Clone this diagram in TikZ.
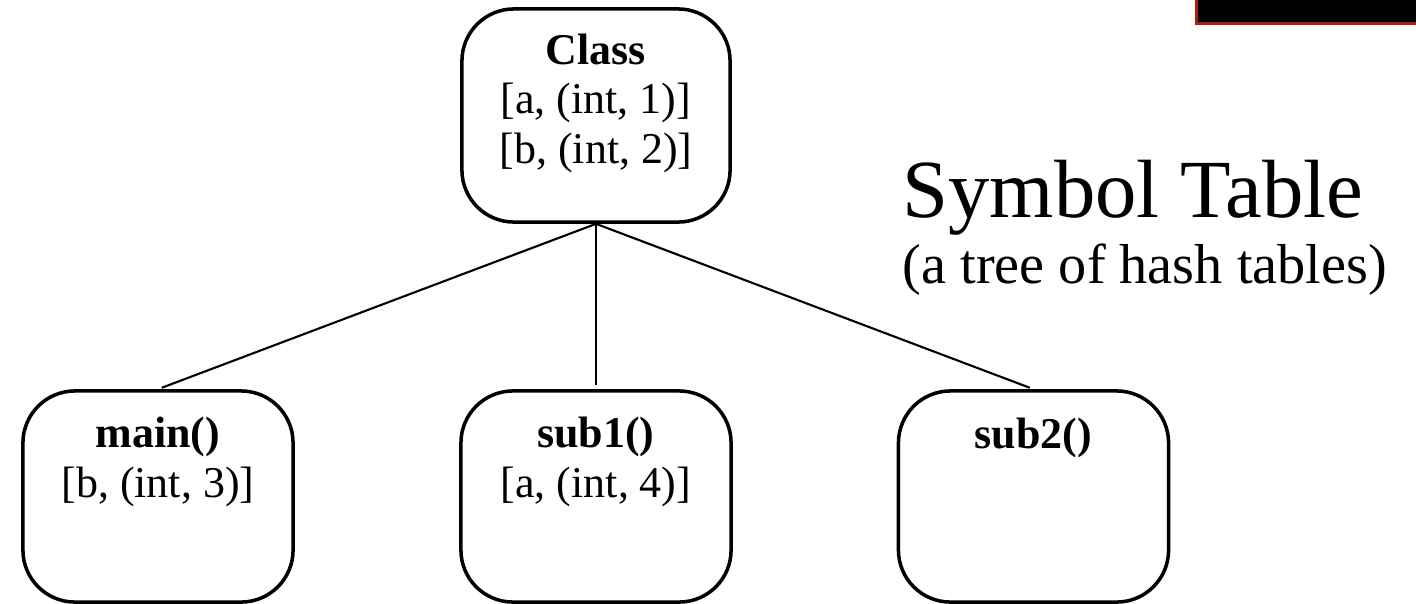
\documentclass[tikz,border=0pt]{standalone}
\usepackage{fontspec}
\setmainfont{Liberation Serif}
\usetikzlibrary{positioning}
\definecolor{framered}{RGB}{170,30,12}

\begin{document}
\begin{tikzpicture}[x=0.01cm, y=-0.01cm,
    table/.style={draw, line width=1pt, rounded corners=0.52cm,
        minimum width=2.7cm, minimum height=2.11cm, inner sep=0pt},
    entries/.style={align=center, font=\fontsize{12.5}{14}\selectfont,
        inner sep=0pt, anchor=base}]
    \useasboundingbox (0,0) rectangle (1416,603);

    % Corner of a dark box cut off at the top right
    \fill[black] (1195,0) rectangle (1416,25);
    \draw[framered, line width=0.85pt] (1196.5,-5) |- (1420,23.5);

    % The root scope (base = last line)
    \node[table, minimum width=2.68cm, minimum height=2.13cm] (class) at (596,115.5) {};
    \node[entries] (class-syms) at (596,163)
        {\textbf{Class}\\{}[a, (int, 1)]\\{}[b, (int, 2)]};

    % The nested scopes
    \node[table] (main) at (158,496.5) {};
    \node[entries] (main-syms) at (158,497) {\textbf{main()}\\{}[b, (int, 3)]};
    \node[table] (sub1) at (596,496.5) {};
    \node[entries] (sub1-syms) at (596,497) {\textbf{sub1()}\\{}[a, (int, 4)]};
    \node[table] (sub2) at (1033.5,496.5) {};
    \node[entries] (sub2-syms) at (1033.5,448) {\textbf{sub2()}};

    % Tree edges
    \foreach \scp in {main, sub1, sub2}
        \draw[line width=0.6pt, shorten >=0.04cm] (class.south) -- (\scp.north);

    % Title
    \node[anchor=base west, inner sep=0pt, font=\fontsize{23.5}{28}\selectfont]
        (title) at (902,217) {Symbol Table};
    \node[anchor=base west, inner sep=0pt, font=\fontsize{16}{19}\selectfont]
        (subtitle) at (902,283) {(a tree of hash tables)};
\end{tikzpicture}
\end{document}
